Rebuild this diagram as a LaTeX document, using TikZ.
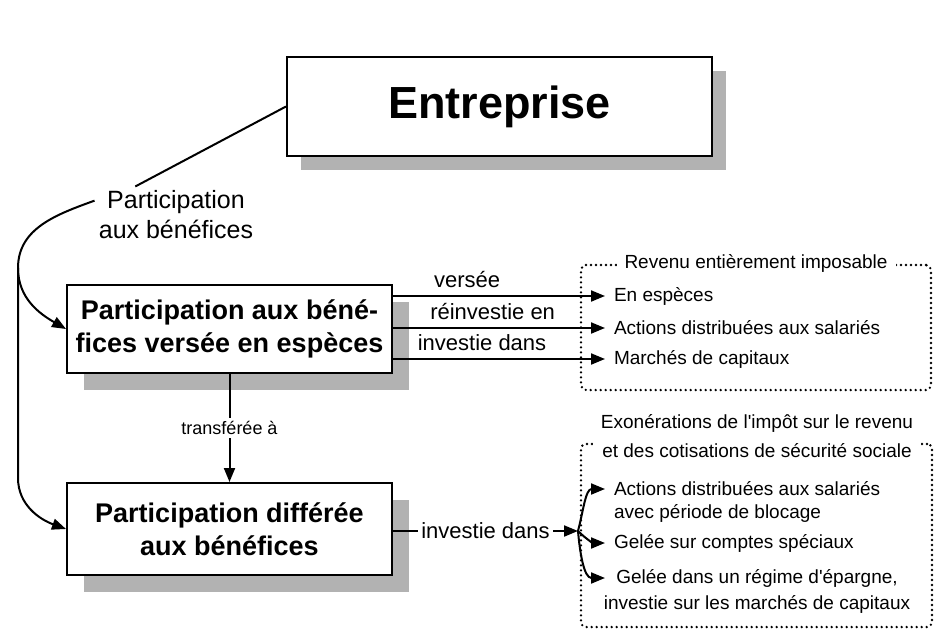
\documentclass[tikz,border=0pt]{standalone}
\usepackage{fontspec}
\setmainfont{Liberation Sans}
\newfontfamily\plainfont{Liberation Sans}
\usetikzlibrary{arrows.meta,shapes,positioning,shadows}
\newcommand{\myShadowColor}{gray!60}
\newcommand{\apo}{{\plainfont'}}

\begin{document}
\begin{tikzpicture}[x=1pt,y=-1pt,>={Triangle[length=14pt,width=11pt]},line width=2pt,
	Edge/.style={->,black,line width=2pt},
	Line/.style={black,line width=2pt},
	Box/.style={rectangle,fill=white,draw=black,line width=2pt,align=center,
		font=\fontsize{27}{33}\selectfont\bfseries,
		drop shadow={shadow xshift=#1,shadow yshift=-#1,fill=\myShadowColor,opacity=1}},
	Box/.default=17pt,
	Frame/.style={rectangle,draw=black,rounded corners=5pt,line width=2.6pt,line cap=round,dash pattern=on 0pt off 5pt},
	Lbl/.style={font=\fontsize{22}{26}\selectfont,inner sep=2pt},
	Item/.style={font=\fontsize{19}{23}\selectfont,inner xsep=8pt,inner ysep=1pt},
]
	\useasboundingbox (0,0) rectangle (940,643);

	% boxes
	\node[Box=14pt,minimum width=425pt,minimum height=99pt,font=\fontsize{45}{50}\selectfont\bfseries] (ent) at (499.5,106.5) {Entreprise};
	\node[Box,minimum width=325pt,minimum height=88pt] (mid) at (229.5,329) {Participation aux béné-\\fices versée en espèces};
	\node[Box,minimum width=325pt,minimum height=92pt] (low) at (229.5,529) {Participation différée\\aux bénéfices};
	\node[font=\fontsize{25}{30}\selectfont,align=center] (lab) at (176,215) {Participation\\aux bénéfices};

	% left branch
	\coordinate (lfork) at (18,268);
	\coordinate (lbend) at (18,478);
	\draw[Line] (ent.west) -- (lab.145);
	\draw[Line] (lab.170) to[out=200,in=90] (lfork);
	\draw[Edge] (lfork) to[out=-90,in=150] (mid.west);
	\draw[Edge] (lfork) -- (lbend) to[out=-90,in=160] (low.west);

	\draw[Edge] (mid.south) -- node[fill=white,font=\fontsize{18}{22}\selectfont] (tra) {transférée à} (low.north);

	% taxed income
	\node[Frame,minimum width=350pt,minimum height=125pt] (revf) at (756,327.5) {};
	\node[Item,fill=white] (revt) at (revf.north) {Revenu entièrement imposable};
	\node[Item,anchor=west] (esp) at (605,296) {En espèces};
	\node[Item,anchor=west] (act1) at (605,328) {Actions distribuées aux salariés};
	\node[Item,anchor=west] (mar) at (605,359) {Marchés de capitaux};

	\draw[Edge] (esp.west -| mid.east) -- node[Lbl,above=5pt,pos=0.35] (ver) {versée} (esp.west);
	\draw[Edge] (act1.west -| mid.east) -- node[Lbl,above=5pt,pos=0.47] (rei) {réinvestie en} (act1.west);
	\draw[Edge] (mar.west -| mid.east) -- node[Lbl,above=5pt,pos=0.42] (inv1) {investie dans} (mar.west);

	% exemptions
	\node[Frame,minimum width=351pt,minimum height=183pt] (exof) at (756.5,535.5) {};
	\node[Item,fill=white,align=center,font=\fontsize{19}{29}\selectfont] (exot) at (757,436) {Exonérations de l\apo impôt sur le revenu\\et des cotisations de sécurité sociale};
	\node[Item,anchor=west] (act2) at (605,489) {Actions distribuées aux salariés};
	\node[Item,below=4pt of act2.south west,anchor=north west] (blo) {avec période de blocage};
	\node[Item,anchor=west] (gsc) at (605,543) {Gelée sur comptes spéciaux};
	\node[Item] (gel) at (757,578) {Gelée dans un régime d\apo épargne,};
	\node[Item] (mcap) at (757,604) {investie sur les marchés de capitaux};

	\coordinate (rfork) at (578,531);
	\draw[Edge] (low.east |- rfork) -- node[Lbl,fill=white,inner xsep=3pt] (inv2) {investie dans} (rfork);
	\draw[Edge] (rfork) to[out=75,in=180] (act2.west);
	\draw[Edge] (rfork) to[out=-45,in=180] (gsc.west);
	\draw[Edge] (rfork) to[out=-85,in=180] (gsc.west |- gel.west);
\end{tikzpicture}
\end{document}
